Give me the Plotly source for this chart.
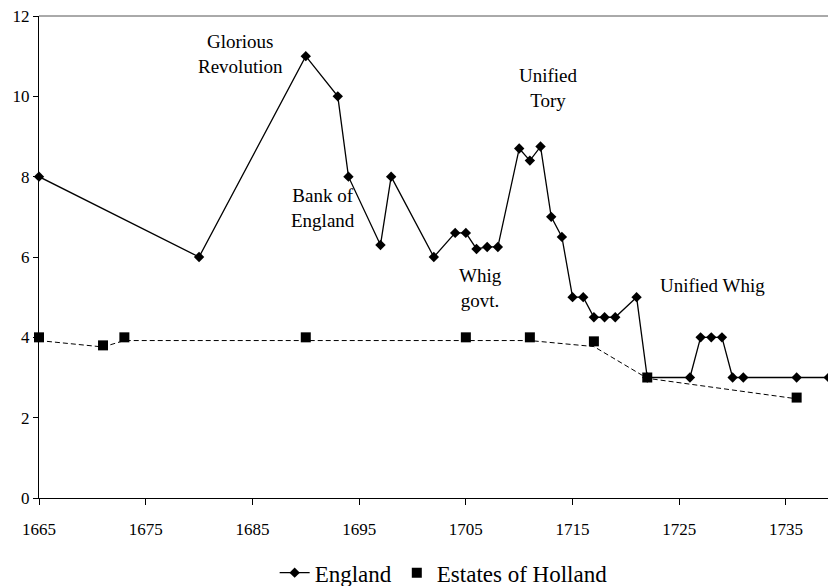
import plotly.graph_objects as go

england_years = [1665, 1680, 1690, 1693, 1694, 1697, 1698, 1702, 1704, 1705, 1706, 1707, 1708,
                 1710, 1711, 1712, 1713, 1714, 1715, 1716, 1717, 1718, 1719, 1721, 1722,
                 1726, 1727, 1728, 1729, 1730, 1731, 1736, 1739]
england_vals = [8, 6, 11, 10, 8, 6.3, 8, 6, 6.6, 6.6, 6.2, 6.25, 6.25,
                8.7, 8.4, 8.75, 7.0, 6.5, 5.0, 5.0, 4.5, 4.5, 4.5, 5.0, 3.0,
                3.0, 4.0, 4.0, 4.0, 3.0, 3.0, 3.0, 3.0]

holland_years = [1665, 1671, 1673, 1690, 1705, 1711, 1717, 1722, 1736]
holland_vals = [4.0, 3.8, 4.0, 4.0, 4.0, 4.0, 3.9, 3.0, 2.5]
holland_trend = [3.92, 3.76, 3.92, 3.92, 3.93, 3.92, 3.77, 2.98, 2.47]

annotations_txt = ["Glorious<br>Revolution", "Bank of<br>England", "Whig<br>govt.",
                   "Unified<br>Tory", "Unified Whig"]
annotations_x = [1683.9, 1691.6, 1706.4, 1712.7, 1728.1]
annotations_y = [11.05, 7.22, 5.23, 10.2, 5.28]

FONT = "Liberation Serif"

fig = go.Figure()
fig.add_trace(go.Scatter(
    x=holland_years, y=holland_trend, mode="lines",
    line=dict(color="black", width=1, dash="5px,3px"),
    showlegend=False, hoverinfo="skip", cliponaxis=False))
fig.add_trace(go.Scatter(
    x=england_years, y=england_vals, mode="lines+markers", name="England",
    line=dict(color="black", width=1.3),
    marker=dict(symbol="diamond", size=8, color="black"),
    cliponaxis=False))
fig.add_trace(go.Scatter(
    x=holland_years, y=holland_vals, mode="markers", name="Estates of Holland",
    marker=dict(symbol="square", size=10, color="black"),
    cliponaxis=False))

for t, x, y in zip(annotations_txt, annotations_x, annotations_y):
    fig.add_annotation(x=x, y=y, text=t, showarrow=False,
                       font=dict(family=FONT, size=19, color="black"))

fig.add_shape(type="line", xref="paper", yref="paper", x0=0, x1=1, y0=1, y1=1,
              line=dict(color="#555555", width=1))

# the page body has an 8px margin, so the figure is sized/offset to compensate
fig.update_layout(
    width=828, height=578,
    margin=dict(l=31, r=2, t=8, b=88, autoexpand=False),
    paper_bgcolor="white", plot_bgcolor="white",
    font=dict(family=FONT, color="black"),
    legend=dict(orientation="h", x=0.509, xanchor="center", y=-0.155, yanchor="middle",
                font=dict(family=FONT, size=23, color="black"), bgcolor="rgba(0,0,0,0)"),
)
fig.update_xaxes(range=[1665, 1739.5], tickvals=[1665, 1675, 1685, 1695, 1705, 1715, 1725, 1735],
                 showgrid=False, zeroline=False, showline=True, linecolor="black", linewidth=1,
                 ticks="outside", ticklen=6, tickcolor="black", ticklabelstandoff=10,
                 automargin=False, ticklabeloverflow="allow",
                 tickfont=dict(family=FONT, size=17, color="black"))
fig.update_yaxes(range=[0, 12], tickvals=[0, 2, 4, 6, 8, 10, 12],
                 showgrid=False, zeroline=False, showline=True, linecolor="black", linewidth=1,
                 ticks="outside", ticklen=5, tickcolor="black", automargin=False,
                 ticklabeloverflow="allow",
                 tickfont=dict(family=FONT, size=17, color="black"))

fig.write_html("out.html")
